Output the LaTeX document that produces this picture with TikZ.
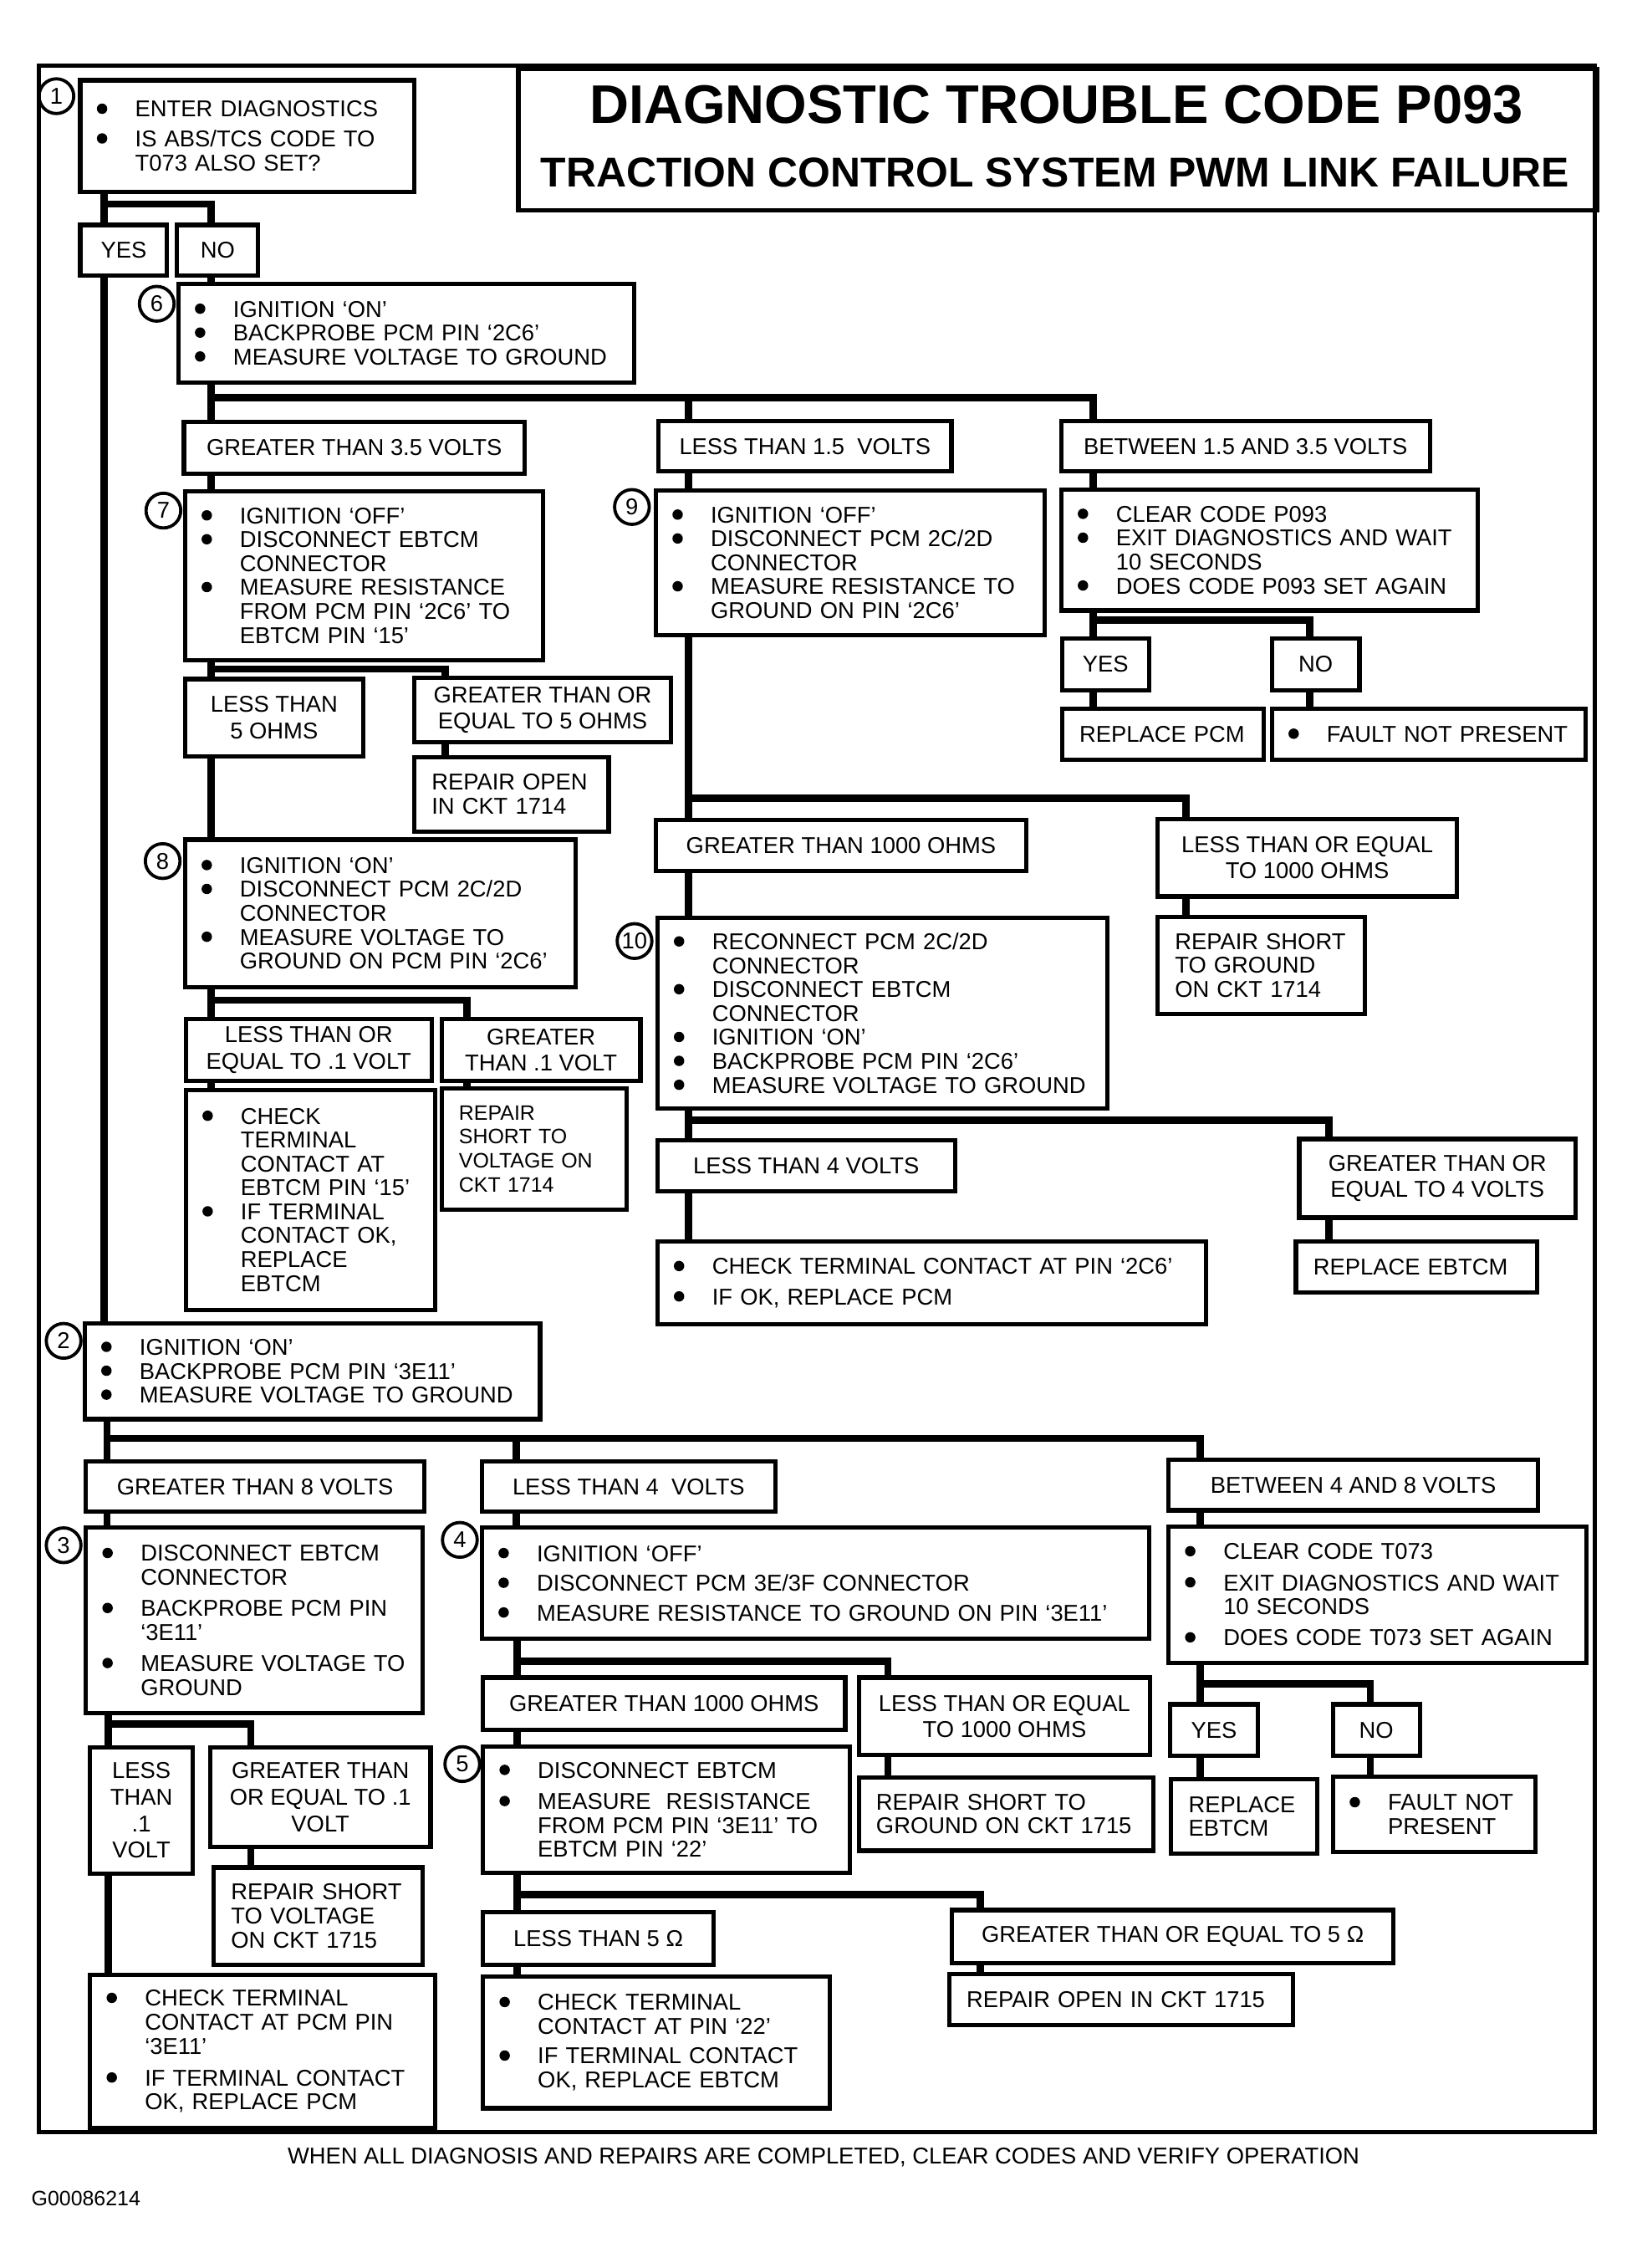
\documentclass[tikz,border=0pt]{standalone}
\usepackage{fontspec}
\setmainfont{Liberation Sans}
\newcommand{\bfont}{\fontsize{45}{47}\selectfont}
\newcommand{\lfont}{\fontsize{45}{52}\selectfont}
\newcommand{\ttlA}{\fontsize{107}{110}\selectfont\bfseries}
\newcommand{\ttlB}{\fontsize{82}{85}\selectfont\bfseries}
\newcommand{\dotb}{\tikz[baseline=-5.75mm]\fill (0,0) circle (3.6mm);}
\newcommand{\bul}{\hspace*{11.5mm}\makebox[26.5mm][l]{\dotb}}
\newcommand{\nxt}{\hspace*{38mm}}
\newcommand{\ind}{\hspace*{12mm}}
\begin{document}
\begin{tikzpicture}[x=1mm,y=-1mm,line join=miter,
  box/.style={draw,line width=3mm,anchor=north west,inner sep=0pt,align=left,font=\bfont},
  lbl/.style={draw,line width=3mm,anchor=north west,inner sep=0pt,align=center,font=\lfont},
  stepc/.style={draw,circle,line width=2.2mm,minimum size=24mm,inner sep=0pt,font=\bfont},
  conn/.style={line width=5mm}]
\useasboundingbox (0,0) rectangle (1125,1568);
\draw[line width=3mm] (27,45.5) rectangle (1103,1474);
% Titre
\node[box,minimum width=746mm,minimum height=98mm] (ttl) at (357,46) {};
\node[font=\ttlA,anchor=base] (ttl1) at (730.5,85) {DIAGNOSTIC TROUBLE CODE P093};
\node[font=\ttlB,anchor=base] (ttl2) at (729.5,129) {TRACTION CONTROL SYSTEM PWM LINK FAILURE};
% Etape 1
\node[stepc] (c1) at (39,66.5) {1};
\node[box,text width=231mm,minimum height=77mm] (b1) at (54,54) {\bul ENTER DIAGNOSTICS\\[4mm]\bul IS ABS/TCS CODE TO\\\nxt T073 ALSO SET?};
\node[lbl,minimum width=60mm,minimum height=35mm] (yes1) at (54,154) {YES};
\node[lbl,minimum width=56mm,minimum height=35mm] (no1) at (121,154) {NO};
% Etape 6
\node[stepc] (c6) at (108.4,210) {6};
\node[box,text width=315.2mm,minimum height=68.1mm] (b6) at (121.8,194.7) {\bul IGNITION ‘ON’\\\bul BACKPROBE PCM PIN ‘2C6’\\\bul MEASURE VOLTAGE TO GROUND};
\node[lbl,minimum width=235.6mm,minimum height=35.8mm] (gt35) at (125.7,290) {GREATER THAN 3.5 VOLTS};
\node[lbl,minimum width=202.7mm,minimum height=35mm] (lt15) at (453.8,289.5) {LESS THAN 1.5\ \ VOLTS};
\node[lbl,minimum width=255mm,minimum height=35mm] (bt35) at (732.3,289.5) {BETWEEN 1.5 AND 3.5 VOLTS};
% Etape 7
\node[stepc] (c7) at (113,353) {7};
\node[box,text width=247.6mm,minimum height=116.8mm] (b7) at (126.4,338) {\bul IGNITION ‘OFF’\\\bul DISCONNECT EBTCM\\\nxt CONNECTOR\\\bul MEASURE RESISTANCE\\\nxt FROM PCM PIN ‘2C6’ TO\\\nxt EBTCM PIN ‘15’};
\node[lbl,minimum width=123.3mm,minimum height=53.3mm] (lt5) at (126.4,468) {LESS THAN\\5 OHMS};
\node[lbl,minimum width=177.5mm,minimum height=44.3mm] (gte5) at (285,467.3) {GREATER THAN OR\\EQUAL TO 5 OHMS};
\node[box,text width=134.4mm,minimum height=51.3mm] (rop14) at (285,522) {\ind REPAIR OPEN\\\ind IN CKT 1714};
% Etape 9
\node[stepc] (c9) at (437,350.5) {9};
\node[box,text width=269mm,minimum height=100mm] (b9) at (452,337.6) {\bul IGNITION ‘OFF’\\\bul DISCONNECT PCM 2C/2D\\\nxt CONNECTOR\\\bul MEASURE RESISTANCE TO\\\nxt GROUND ON PIN ‘2C6’};
% P093
\node[box,text width=288mm,minimum height=83.6mm] (p93) at (732.3,337) {\bul CLEAR CODE P093\\\bul EXIT DIAGNOSTICS AND WAIT\\\nxt 10 SECONDS\\\bul DOES CODE P093 SET AGAIN};
\node[lbl,minimum width=60mm,minimum height=35.7mm] (yesp) at (733,440) {YES};
\node[lbl,minimum width=60.6mm,minimum height=35.7mm] (nop) at (878,440) {NO};
\node[box,text width=139.4mm,minimum height=35.5mm] (rpcm) at (733,488.3) {\ind REPLACE PCM};
\node[box,text width=217mm,minimum height=35.5mm] (nfp) at (878,488.3) {\bul FAULT NOT PRESENT};
% Etape 9 suite
\node[lbl,minimum width=255.8mm,minimum height=35.4mm] (gt1k) at (452.2,565.4) {GREATER THAN 1000 OHMS};
\node[lbl,minimum width=207mm,minimum height=53.6mm] (lte1k) at (799,564.7) {LESS THAN OR EQUAL\\TO 1000 OHMS};
\node[box,text width=143.3mm,minimum height=67mm] (rsg14) at (799,632.5) {\ind REPAIR SHORT\\\ind TO GROUND\\\ind ON CKT 1714};
% Etape 8
\node[stepc] (c8) at (112.5,595.3) {8};
\node[box,text width=270.3mm,minimum height=101.8mm] (b8) at (126.4,579) {\bul IGNITION ‘ON’\\\bul DISCONNECT PCM 2C/2D\\\nxt CONNECTOR\\\bul MEASURE VOLTAGE TO\\\nxt GROUND ON PCM PIN ‘2C6’};
\node[lbl,minimum width=170mm,minimum height=43.2mm] (lte01) at (127,702.8) {LESS THAN OR\\EQUAL TO .1 VOLT};
\node[lbl,minimum width=137.5mm,minimum height=43.2mm] (gt01) at (303.9,702.8) {GREATER\\THAN .1 VOLT};
\node[box,text width=172.3mm,minimum height=152mm] (chk15) at (127,752) {\bul CHECK\\\nxt TERMINAL\\\nxt CONTACT AT\\\nxt EBTCM PIN ‘15’\\\bul IF TERMINAL\\\nxt CONTACT OK,\\\nxt REPLACE\\\nxt EBTCM};
\node[box,text width=128mm,minimum height=83.6mm,font=\fontsize{41}{47}\selectfont] (rsv14) at (303.9,751) {\ind REPAIR\\\ind SHORT TO\\\ind VOLTAGE ON\\\ind CKT 1714};
% Etape 10
\node[stepc] (c10) at (438.8,650.6) {10};
\node[box,text width=311.4mm,minimum height=132mm] (b10) at (453,633) {\bul RECONNECT PCM 2C/2D\\\nxt CONNECTOR\\\bul DISCONNECT EBTCM\\\nxt CONNECTOR\\\bul IGNITION ‘ON’\\\bul BACKPROBE PCM PIN ‘2C6’\\\bul MEASURE VOLTAGE TO GROUND};
\node[lbl,minimum width=206mm,minimum height=35.4mm] (lt4v) at (453,786.8) {LESS THAN 4 VOLTS};
\node[lbl,minimum width=191mm,minimum height=54.3mm] (gte4v) at (897,786) {GREATER THAN OR\\EQUAL TO 4 VOLTS};
\node[box,text width=379.5mm,minimum height=57mm] (chk2c6) at (453,857) {\bul CHECK TERMINAL CONTACT AT PIN ‘2C6’\\[4.5mm]\bul IF OK, REPLACE PCM};
\node[box,text width=166.7mm,minimum height=35.4mm] (rebt) at (894.7,856.6) {\ind REPLACE EBTCM};
% Etape 2
\node[stepc] (c2) at (44,927) {2};
\node[box,text width=315mm,minimum height=66.3mm] (b2) at (57,913.3) {\bul IGNITION ‘ON’\\\bul BACKPROBE PCM PIN ‘3E11’\\\bul MEASURE VOLTAGE TO GROUND};
\node[lbl,minimum width=234.2mm,minimum height=34.5mm] (gt8) at (57.8,1009) {GREATER THAN 8 VOLTS};
\node[lbl,minimum width=203mm,minimum height=34.5mm] (lt4) at (331.7,1009) {LESS THAN 4\ \ VOLTS};
\node[lbl,minimum width=255.7mm,minimum height=35.1mm] (bt48) at (806.5,1007.6) {BETWEEN 4 AND 8 VOLTS};
% Etape 3
\node[stepc] (c3) at (44,1068.3) {3};
\node[box,text width=233mm,minimum height=128.5mm] (b3) at (57.8,1054.5) {\bul DISCONNECT EBTCM\\\nxt CONNECTOR\\[5mm]\bul BACKPROBE PCM PIN\\\nxt ‘3E11’\\[5mm]\bul MEASURE VOLTAGE TO\\\nxt GROUND};
\node[lbl,minimum width=71.2mm,minimum height=87.2mm] (lt01) at (60.7,1206.5) {LESS\\THAN\\.1\\VOLT};
\node[lbl,minimum width=152.5mm,minimum height=69.1mm] (gte01) at (143.8,1206.5) {GREATER THAN\\OR EQUAL TO .1\\VOLT};
\node[box,text width=144.5mm,minimum height=67.3mm] (rsv15) at (146.3,1289.5) {\ind REPAIR SHORT\\\ind TO VOLTAGE\\\ind ON CKT 1715};
\node[box,text width=238.5mm,minimum height=106.1mm] (chkpcm) at (60.7,1363.7) {\bul CHECK TERMINAL\\\nxt CONTACT AT PCM PIN\\\nxt ‘3E11’\\[5.5mm]\bul IF TERMINAL CONTACT\\\nxt OK, REPLACE PCM};
% Etape 4
\node[stepc] (c4) at (318,1064.6) {4};
\node[box,text width=461.3mm,minimum height=77.1mm] (b4) at (331.7,1054.5) {\bul IGNITION ‘OFF’\\[4mm]\bul DISCONNECT PCM 3E/3F CONNECTOR\\[4mm]\bul MEASURE RESISTANCE TO GROUND ON PIN ‘3E11’};
\node[lbl,minimum width=250.6mm,minimum height=36.1mm] (gt1kb) at (332.4,1158.3) {GREATER THAN 1000 OHMS};
\node[lbl,minimum width=201.5mm,minimum height=53.7mm] (lte1kb) at (592.4,1158.3) {LESS THAN OR EQUAL\\TO 1000 OHMS};
\node[box,text width=203.6mm,minimum height=50.7mm] (rsg15) at (592.4,1227.3) {\ind REPAIR SHORT TO\\\ind GROUND ON CKT 1715};
% Etape 5
\node[stepc] (c5) at (319.7,1219.6) {5};
\node[box,text width=253.6mm,minimum height=87.6mm] (b5) at (332.4,1205.9) {\bul DISCONNECT EBTCM\\[5mm]\bul MEASURE\ \ RESISTANCE\\\nxt FROM PCM PIN ‘3E11’ TO\\\nxt EBTCM PIN ‘22’};
\node[lbl,minimum width=159.6mm,minimum height=36.2mm] (lt5o) at (332.4,1320.6) {LESS THAN 5 Ω};
\node[lbl,minimum width=305.5mm,minimum height=36.8mm] (gte5o) at (656.7,1319) {GREATER THAN OR EQUAL TO 5 Ω};
\node[box,text width=237.4mm,minimum height=34.9mm] (rop15) at (655,1363.4) {\ind REPAIR OPEN IN CKT 1715};
\node[box,text width=240mm,minimum height=90.8mm] (chk22) at (332.4,1365.2) {\bul CHECK TERMINAL\\\nxt CONTACT AT PIN ‘22’\\[4mm]\bul IF TERMINAL CONTACT\\\nxt OK, REPLACE EBTCM};
% T073
\node[box,text width=289mm,minimum height=94mm] (t73) at (806.5,1054) {\bul CLEAR CODE T073\\[5mm]\bul EXIT DIAGNOSTICS AND WAIT\\\nxt 10 SECONDS\\[5mm]\bul DOES CODE T073 SET AGAIN};
\node[lbl,minimum width=60.7mm,minimum height=35.5mm] (yest) at (807.6,1176.8) {YES};
\node[lbl,minimum width=60mm,minimum height=35.5mm] (nt73) at (920.3,1176.8) {NO};
\node[box,text width=101.1mm,minimum height=51.5mm] (rebt2) at (808.4,1228.5) {\ind REPLACE\\\ind EBTCM};
\node[box,text width=140mm,minimum height=52mm] (nfp2) at (920.3,1227) {\bul FAULT NOT\\\nxt PRESENT};
% Pied
\node[font=\bfont,anchor=base] (foot) at (569.5,1496) {WHEN ALL DIAGNOSIS AND REPAIRS ARE COMPLETED, CLEAR CODES AND VERIFY OPERATION};
\node[font=\fontsize{41}{44}\selectfont,anchor=base west,inner sep=0pt] (gcode) at (21.7,1524.7) {G00086214};
% Liaisons
\coordinate (k1) at (72,141);
\coordinate (k1r) at (146,141);
\draw[conn] (b1.south -| k1) -- (yes1.north -| k1);
\draw[conn] (k1) -- (k1r) -- (no1.north -| k1r);
\draw[conn] (yes1.south -| k1) -- (b2.north -| k1);
\draw[conn] (no1.south -| k1r) -- (b6.north -| k1r);
% 6
\coordinate (k6) at (146,275);
\coordinate (k6m) at (476,275);
\coordinate (k6r) at (756,275);
\draw[conn] (b6.south -| k6) -- (gt35.north -| k6);
\draw[conn] (k6) -- (k6r) -- (bt35.north -| k6r);
\draw[conn] (k6m) -- (lt15.north -| k6m);
\draw[conn] (gt35.south -| k6) -- (b7.north -| k6);
\draw[conn] (lt15.south -| k6m) -- (b9.north -| k6m);
\draw[conn] (bt35.south -| k6r) -- (p93.north -| k6r);
% 7
\coordinate (k7) at (146,462.6);
\coordinate (k7r) at (308,462.6);
\draw[conn] (b7.south -| k7) -- (lt5.north -| k7);
\draw[conn] (k7) -- (k7r) -- (gte5.north -| k7r);
\draw[conn] (gte5.south -| k7r) -- (rop14.north -| k7r);
\draw[conn] (lt5.south -| k7) -- (b8.north -| k7);
% 8
\coordinate (k8) at (146,691.4);
\coordinate (k8r) at (323,691.4);
\draw[conn] (b8.south -| k8) -- (lte01.north -| k8);
\draw[conn] (k8) -- (k8r) -- (gt01.north -| k8r);
\draw[conn] (lte01.south -| k8) -- (chk15.north -| k8);
\draw[conn] (gt01.south -| k8r) -- (rsv14.north -| k8r);
% P093
\coordinate (kp) at (756,428.8);
\coordinate (kpr) at (905.6,428.8);
\draw[conn] (p93.south -| kp) -- (yesp.north -| kp);
\draw[conn] (kp) -- (kpr) -- (nop.north -| kpr);
\draw[conn] (yesp.south -| kp) -- (rpcm.north -| kp);
\draw[conn] (nop.south -| kpr) -- (nfp.north -| kpr);
% 9
\coordinate (k9) at (476,552);
\coordinate (k9r) at (820,552);
\draw[conn] (b9.south -| k9) -- (gt1k.north -| k9);
\draw[conn] (k9) -- (k9r) -- (lte1k.north -| k9r);
\draw[conn] (lte1k.south -| k9r) -- (rsg14.north -| k9r);
\draw[conn] (gt1k.south -| k9) -- (b10.north -| k9);
% 10
\coordinate (k10) at (476,774.5);
\coordinate (k10r) at (919,774.5);
\draw[conn] (b10.south -| k10) -- (lt4v.north -| k10);
\draw[conn] (k10) -- (k10r) -- (gte4v.north -| k10r);
\draw[conn] (lt4v.south -| k10) -- (chk2c6.north -| k10);
\draw[conn] (gte4v.south -| k10r) -- (rebt.north -| k10r);
% 2
\coordinate (k2) at (74,994.4);
\coordinate (k2m) at (357,994.4);
\coordinate (k2r) at (830,994.4);
\draw[conn] (b2.south -| k2) -- (gt8.north -| k2);
\draw[conn] (k2) -- (k2r) -- (bt48.north -| k2r);
\draw[conn] (k2m) -- (lt4.north -| k2m);
\draw[conn] (gt8.south -| k2) -- (b3.north -| k2);
\draw[conn] (lt4.south -| k2m) -- (b4.north -| k2m);
\draw[conn] (bt48.south -| k2r) -- (t73.north -| k2r);
% 3
\coordinate (k3) at (75,1191.7);
\coordinate (k3r) at (173.4,1191.7);
\draw[conn] (b3.south -| k3) -- (lt01.north -| k3);
\draw[conn] (k3) -- (k3r) -- (gte01.north -| k3r);
\draw[conn] (lt01.south -| k3) -- (chkpcm.north -| k3);
\draw[conn] (gte01.south -| k3r) -- (rsv15.north -| k3r);
% 4
\coordinate (k4) at (357.7,1148.6);
\coordinate (k4r) at (614,1148.6);
\draw[conn] (b4.south -| k4) -- (gt1kb.north -| k4);
\draw[conn] (k4) -- (k4r) -- (lte1kb.north -| k4r);
\draw[conn] (gt1kb.south -| k4) -- (b5.north -| k4);
\draw[conn] (lte1kb.south -| k4r) -- (rsg15.north -| k4r);
% 5
\coordinate (k5) at (357.7,1310);
\coordinate (k5r) at (678,1310);
\draw[conn] (b5.south -| k5) -- (lt5o.north -| k5);
\draw[conn] (k5) -- (k5r) -- (gte5o.north -| k5r);
\draw[conn] (lt5o.south -| k5) -- (chk22.north -| k5);
\draw[conn] (gte5o.south -| k5r) -- (rop15.north -| k5r);
% T073
\coordinate (kt) at (830,1164);
\coordinate (ktr) at (947.6,1164);
\draw[conn] (t73.south -| kt) -- (yest.north -| kt);
\draw[conn] (kt) -- (ktr) -- (nt73.north -| ktr);
\draw[conn] (yest.south -| kt) -- (rebt2.north -| kt);
\draw[conn] (nt73.south -| ktr) -- (nfp2.north -| ktr);
\end{tikzpicture}
\end{document}
